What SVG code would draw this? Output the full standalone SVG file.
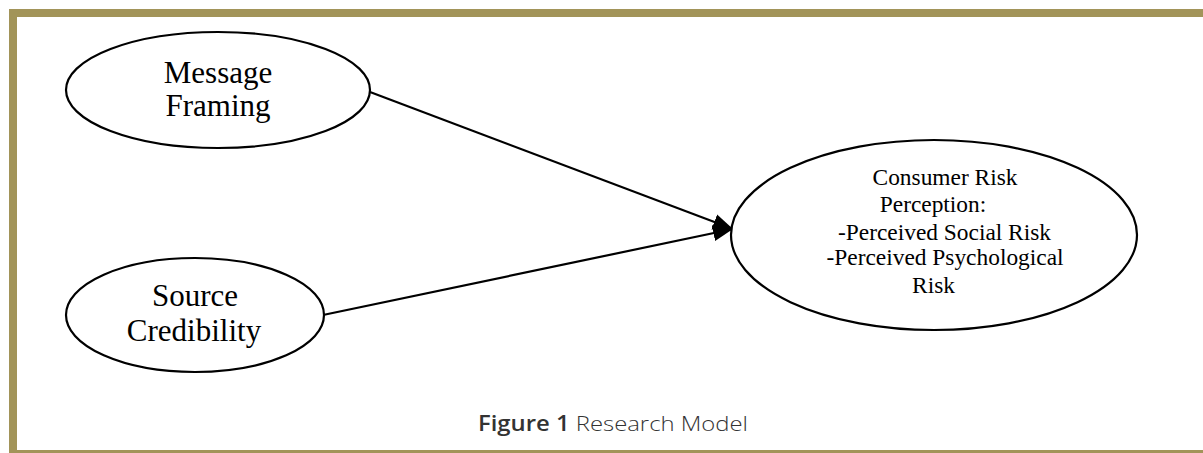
<svg xmlns="http://www.w3.org/2000/svg" width="1203" height="453" viewBox="0 0 1203 453">
  <style>
    .node { fill: #ffffff; stroke: #000000; stroke-width: 2.2; }
    .edge { stroke: #000000; stroke-width: 2.2; fill: none; }
    .lbl { font-family: "Liberation Serif", serif; fill: #000000; text-anchor: middle; }
    .big { font-size: 31px; }
    .small { font-size: 23.4px; }
    .cap { font-family: "Open Sans", "Noto Sans", sans-serif; font-size: 21px; fill: #333333; }
  </style>
  <defs>
    <marker id="head" viewBox="0 0 20 20" refX="20" refY="10" markerWidth="20" markerHeight="20" markerUnits="userSpaceOnUse" orient="auto">
      <path d="M0,2 L20,10 L0,18 z" fill="#000000"/>
    </marker>
  </defs>

  <!-- frame -->
  <rect x="0" y="0" width="1203" height="453" fill="#ffffff"/>
  <rect x="9" y="9" width="1194" height="8" fill="#a29459"/>
  <rect x="9" y="9" width="8" height="444" fill="#a29459"/>
  <rect x="9" y="450" width="1194" height="3" fill="#a29459"/>

  <!-- connectors -->
  <g id="connectors">
    <line class="edge" x1="370" y1="92" x2="733" y2="229" marker-end="url(#head)"/>
    <line class="edge" x1="323" y1="315" x2="733" y2="229" marker-end="url(#head)"/>
  </g>

  <g id="message-framing">
    <ellipse class="node" cx="218" cy="90" rx="152" ry="58"/>
    <text class="lbl big" x="218" y="83">Message</text>
    <text class="lbl big" x="218" y="116">Framing</text>
  </g>

  <g id="source-credibility">
    <ellipse class="node" cx="195" cy="315" rx="129" ry="57"/>
    <text class="lbl big" x="195" y="306">Source</text>
    <text class="lbl big" x="194" y="341">Credibility</text>
  </g>

  <g id="risk-perception">
    <ellipse class="node" cx="934" cy="235" rx="203" ry="95"/>
    <text class="lbl small" x="945" y="185">Consumer Risk</text>
    <text class="lbl small" x="933" y="212">Perception:</text>
    <text class="lbl small" x="944.5" y="240">-Perceived Social Risk</text>
    <text class="lbl small" x="945" y="265">-Perceived Psychological</text>
    <text class="lbl small" x="933.5" y="293">Risk</text>
  </g>

  <text class="cap" x="478" y="431" textLength="270" lengthAdjust="spacingAndGlyphs"><tspan font-weight="600">Figure 1</tspan><tspan font-weight="300"> Research Model</tspan></text>
</svg>
